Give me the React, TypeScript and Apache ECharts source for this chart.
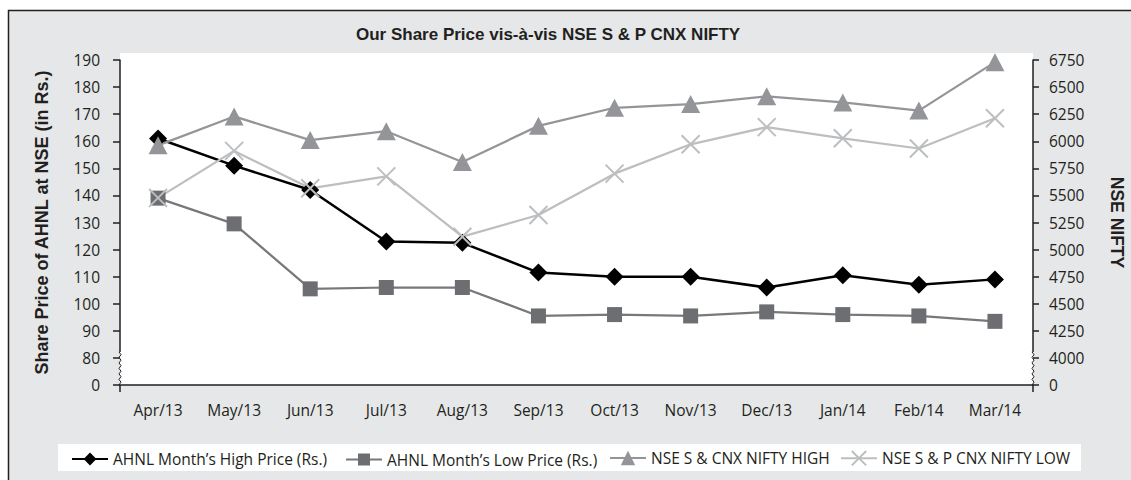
import { useEffect, useRef } from 'react';
import * as echarts from 'echarts';

const months = ['Apr/13', 'May/13', 'Jun/13', 'Jul/13', 'Aug/13', 'Sep/13', 'Oct/13', 'Nov/13', 'Dec/13', 'Jan/14', 'Feb/14', 'Mar/14'];
const ahnlHigh = [161, 151, 142, 123, 122.5, 111.5, 110, 110, 106, 110.5, 107, 109];
const ahnlLow = [139, 129.5, 105.5, 106, 106, 95.5, 96, 95.5, 97, 96, 95.5, 93.5];
const niftyHigh = [5962, 6229, 6011, 6093, 5808, 6142, 6309, 6343, 6415, 6358, 6283, 6730];
const niftyLow = [5477, 5911, 5566, 5676, 5119, 5319, 5701, 5972, 6130, 6027, 5933, 6212];

const leftTicks = { min: 70, max: 190, interval: 10, breakLabel: '0' };
const rightTicks = { min: 3750, max: 6750, interval: 250, breakLabel: '0' };

const seriesNames = [
  'AHNL Month\u2019s High Price (Rs.)',
  'AHNL Month\u2019s Low Price (Rs.)',
  'NSE S & CNX NIFTY HIGH',
  'NSE S & P CNX NIFTY LOW',
];

const TXT = '#231f20';
const LABEL_FONT = { fontFamily: 'Open Sans', fontSize: 15.5, color: TXT };
const GRID = { left: 120, right: 98, top: 60, bottom: 95 };
const W = 1131;
const H = 480;

export default function App() {
  const ref = useRef<HTMLDivElement>(null);
  useEffect(() => {
    document.body.style.margin = '0';
    const chart = echarts.init(ref.current!, null, { renderer: 'svg' });
    const legendLefts = [71, 345, 609, 840];
    const legendIconH = [16, 15, 18, 18];
    const option: any = {
      animation: false,
      title: {
        text: 'Our Share Price vis-\u00e0-vis NSE S & P CNX NIFTY',
        left: 356,
        top: 26,
        padding: 0,
        textStyle: { fontFamily: 'Liberation Sans', fontWeight: 'bold', fontSize: 17, color: TXT },
      },
      grid: { ...GRID, containLabel: false, outerBoundsMode: 'none' },
      legend: seriesNames.map((n, i) => ({
        data: [n],
        left: legendLefts[i],
        top: 459 - legendIconH[i] / 2,
        padding: 0,
        itemWidth: 36,
        itemHeight: legendIconH[i],
        textStyle: { fontFamily: 'Open Sans', fontSize: 15.5, color: TXT },
      })),
      xAxis: {
        type: 'category',
        data: months,
        boundaryGap: true,
        axisLine: { lineStyle: { color: TXT, width: 1.5 } },
        axisTick: { alignWithLabel: true, length: 7, lineStyle: { color: TXT, width: 1.5 } },
        axisLabel: { ...LABEL_FONT, margin: 17, interval: 0 },
      },
      yAxis: [
        {
          type: 'value',
          position: 'left',
          min: leftTicks.min,
          max: leftTicks.max,
          interval: leftTicks.interval,
          name: 'Share Price of AHNL at NSE (in Rs.)',
          nameLocation: 'middle',
          nameRotate: 90,
          nameGap: 69,
          nameTextStyle: { fontFamily: 'Liberation Sans', fontWeight: 'bold', fontSize: 18, color: TXT },
          axisLine: { show: false },
          axisTick: { show: true, length: 7, lineStyle: { color: TXT, width: 1.5 } },
          splitLine: { show: false },
          axisLabel: {
            ...LABEL_FONT,
            margin: 20,
            formatter: (v: number) => (v === leftTicks.min ? leftTicks.breakLabel : String(v)),
          },
        },
        {
          type: 'value',
          position: 'right',
          min: rightTicks.min,
          max: rightTicks.max,
          interval: rightTicks.interval,
          name: 'NSE NIFTY',
          nameLocation: 'middle',
          nameRotate: -90,
          nameGap: 75,
          nameTextStyle: { fontFamily: 'Liberation Sans', fontWeight: 'bold', fontSize: 17.5, color: TXT },
          axisLine: { show: false },
          axisTick: { show: true, length: 6, lineStyle: { color: TXT, width: 1.5 } },
          splitLine: { show: false },
          axisLabel: {
            ...LABEL_FONT,
            margin: 16,
            formatter: (v: number) => (v === rightTicks.min ? rightTicks.breakLabel : String(v)),
          },
        },
      ],
      series: [
        {
          name: seriesNames[0],
          type: 'line',
          yAxisIndex: 0,
          data: ahnlHigh,
          symbol: 'diamond',
          symbolSize: 18,
          lineStyle: { color: '#000000', width: 2.5 },
          itemStyle: { color: '#000000' },
        },
        {
          name: seriesNames[1],
          type: 'line',
          yAxisIndex: 0,
          data: ahnlLow,
          symbol: 'rect',
          symbolSize: 15,
          lineStyle: { color: '#77787b', width: 2.25 },
          itemStyle: { color: '#6d6e71' },
        },
        {
          name: seriesNames[2],
          type: 'line',
          yAxisIndex: 1,
          data: niftyHigh,
          symbol: 'triangle',
          symbolSize: [19, 18],
          lineStyle: { color: '#939598', width: 2.25 },
          itemStyle: { color: '#939598' },
        },
        {
          name: seriesNames[3],
          type: 'line',
          yAxisIndex: 1,
          data: niftyLow,
          symbol: 'path://M0,0L10,10M10,0L0,10',
          symbolSize: 18,
          lineStyle: { color: '#bcbec0', width: 2.25 },
          itemStyle: { color: '#bcbec0', borderColor: '#bcbec0', borderWidth: 2 },
        },
      ],
    };
    chart.setOption(option);

    const xl = GRID.left;
    const xr = W - GRID.right;
    const yTop = chart.convertToPixel({ yAxisIndex: 0 }, leftTicks.max) as number;
    const yBreak = (chart.convertToPixel({ yAxisIndex: 0 }, leftTicks.min + leftTicks.interval) as number) - 6;
    const yBot = H - GRID.bottom;
    const wave = (x: number) => {
      const pts: number[][] = [];
      let k = 0;
      for (let y = yBreak; y <= yBot + 0.01; y += 2.75) {
        pts.push([x + (k % 2 === 0 ? -1 : 1), y]);
        k++;
      }
      pts.push([x, yBot]);
      return pts;
    };
    const axisStyle = { stroke: TXT, lineWidth: 1.5 };
    chart.setOption({
      graphic: [
        { type: 'rect', z: -10, shape: { x: 8.5, y: 10.5, width: 1130, height: 480 }, style: { fill: '#e6e7e8', stroke: TXT, lineWidth: 1.5 } },
        { type: 'rect', z: -9, shape: { x: xl, y: 53, width: xr - xl, height: yBot - 53 }, style: { fill: '#ffffff' } },
        { type: 'rect', z: -9, shape: { x: 58, y: 444, width: 1023, height: 27 }, style: { fill: '#ffffff' } },
        { type: 'line', z: 5, shape: { x1: xl, y1: yTop - 0.5, x2: xl, y2: yBreak }, style: axisStyle },
        { type: 'polyline', z: 5, shape: { points: wave(xl) }, style: { stroke: TXT, lineWidth: 1, fill: 'none' } },
        { type: 'line', z: 5, shape: { x1: xl, y1: yBot, x2: xl, y2: yBot + 7 }, style: axisStyle },
        { type: 'line', z: 5, shape: { x1: xr, y1: yTop - 0.5, x2: xr, y2: yBreak }, style: axisStyle },
        { type: 'polyline', z: 5, shape: { points: wave(xr) }, style: { stroke: TXT, lineWidth: 1, fill: 'none' } },
        { type: 'line', z: 5, shape: { x1: xr, y1: yBot, x2: xr, y2: yBot + 7 }, style: axisStyle },
      ],
    });
    return () => chart.dispose();
  }, []);
  return <div ref={ref} style={{ width: W, height: H }} />;
}
